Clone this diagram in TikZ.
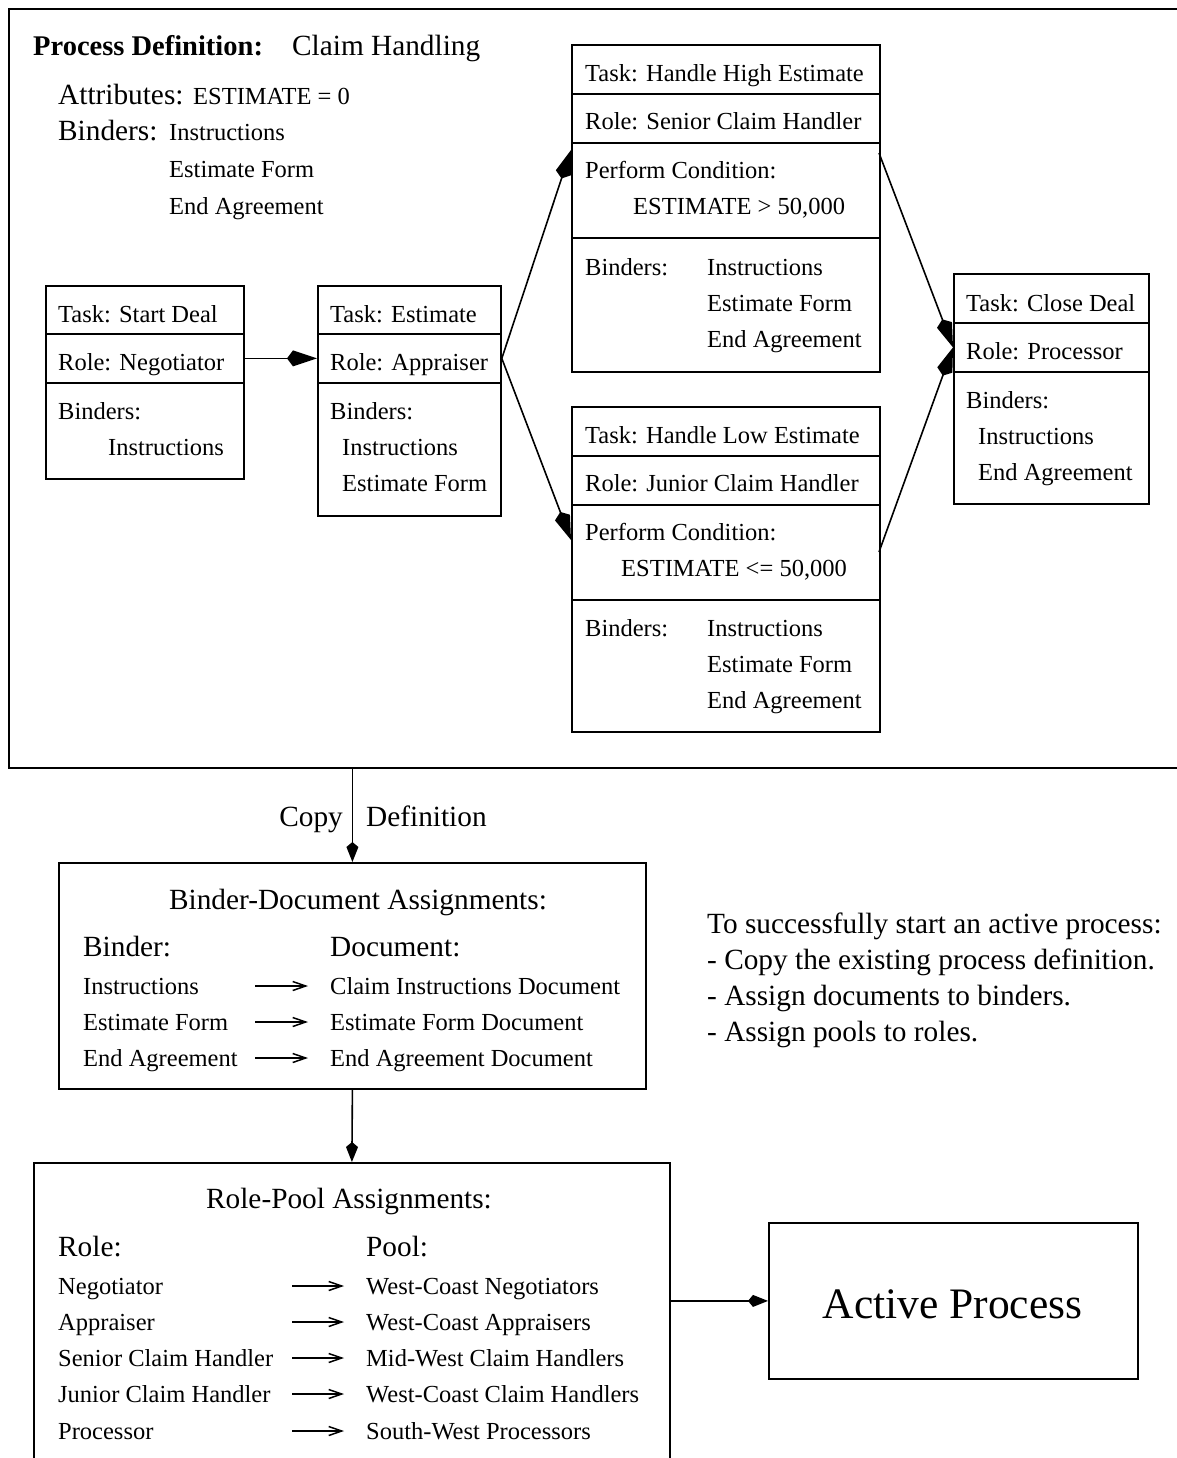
\documentclass[tikz,border=0pt]{standalone}
\usepackage{fontspec}
\setmainfont{Liberation Serif}
\usetikzlibrary{arrows.meta,calc}
\begin{document}
\begin{tikzpicture}[x=1pt,y=-1pt,
  box/.style={draw, line width=1.8pt, inner sep=0pt, anchor=north west},
  t/.style={inner sep=0pt, anchor=west, yshift=-5.5pt, text height=0.66em, text depth=0pt, font=\fontsize{24.5}{28}\selectfont},
  tl/.style={t, font=\fontsize{29.3}{34}\selectfont},
  tc/.style={tl, anchor=center},
  conn/.style={line width=1.6pt, -{Kite[length=30pt,width=16pt,inset=6pt]}},
  sconn/.style={line width=1.6pt, -{Kite[length=20pt,width=12pt,inset=5pt]}},
  ra/.style={line width=1.5pt, -{Straight Barb[length=13pt,width=9pt,line width=1.5pt]}}
]
\useasboundingbox (0,0) rectangle (1177,1458);
\clip (0,0) rectangle (1177,1458);
\newcommand\rowbox[5]{\node[box,minimum width=#4pt,minimum height=#5pt] (#1) at (#2,#3) {};}

% outer frame
\node[box, minimum width=1200pt, minimum height=759pt] (pd) at (8,8) {};
\node[tl, font=\fontsize{28.5}{34}\selectfont\bfseries] (pdtitle) at (33,47) {Process Definition:};
\node[tl] (pdname) at (292,47) {Claim Handling};
\node[tl] (pdattr) at (58,96) {Attributes:};
\node[t] (pdest) at (193,96) {ESTIMATE = 0};
\node[tl] (pdbind) at (58,132) {Binders:};
\node[t] (pdb1) at (169,132) {Instructions};
\node[t] (pdb2) at (169,169) {Estimate Form};
\node[t] (pdb3) at (169,206) {End Agreement};

% Start Deal
\rowbox{sdtask}{45}{285}{198}{48}
\rowbox{sdrole}{45}{333}{198}{49}
\rowbox{sdbind}{45}{382}{198}{96}
\node[t] (sd1) at (58,314) {Task: Start Deal};
\node[t] (sd2) at (58,362) {Role: Negotiator};
\node[t] (sd3) at (58,411) {Binders:};
\node[t] (sd4) at (108,447) {Instructions};

% Estimate
\rowbox{esttask}{317}{285}{183}{48}
\rowbox{estrole}{317}{333}{183}{49}
\rowbox{estbind}{317}{382}{183}{133}
\node[t] (es1) at (330,314) {Task: Estimate};
\node[t] (es2) at (330,362) {Role: Appraiser};
\node[t] (es3) at (330,411) {Binders:};
\node[t] (es4) at (342,447) {Instructions};
\node[t] (es5) at (342,483) {Estimate Form};

% High estimate
\rowbox{hitask}{571}{44}{308}{49}
\rowbox{hirole}{571}{93}{308}{49}
\rowbox{hicond}{571}{142}{308}{95}
\rowbox{hibind}{571}{237}{308}{134}
\node[t] (hi1) at (585,73) {Task: Handle High Estimate};
\node[t] (hi2) at (585,121) {Role: Senior Claim Handler};
\node[t] (hi3) at (585,170) {Perform Condition:};
\node[t] (hi4) at (633,206) {ESTIMATE > 50,000};
\node[t] (hi5) at (585,267) {Binders:};
\node[t] (hi6) at (707,267) {Instructions};
\node[t] (hi7) at (707,303) {Estimate Form};
\node[t] (hi8) at (707,339) {End Agreement};

% Low estimate
\rowbox{lotask}{571}{406}{308}{49}
\rowbox{lorole}{571}{455}{308}{49}
\rowbox{locond}{571}{504}{308}{95}
\rowbox{lobind}{571}{599}{308}{132}
\node[t] (lo1) at (585,435) {Task: Handle Low Estimate};
\node[t] (lo2) at (585,483) {Role: Junior Claim Handler};
\node[t] (lo3) at (585,532) {Perform Condition:};
\node[t] (lo4) at (621,568) {ESTIMATE <= 50,000};
\node[t] (lo5) at (585,628) {Binders:};
\node[t] (lo6) at (707,628) {Instructions};
\node[t] (lo7) at (707,664) {Estimate Form};
\node[t] (lo8) at (707,700) {End Agreement};

% Close deal
\rowbox{cdtask}{953}{273}{195}{49}
\rowbox{cdrole}{953}{322}{195}{49}
\rowbox{cdbind}{953}{371}{195}{132}
\node[t] (cd1) at (966,303) {Task: Close Deal};
\node[t] (cd2) at (966,351) {Role: Processor};
\node[t] (cd3) at (966,400) {Binders:};
\node[t] (cd4) at (978,436) {Instructions};
\node[t] (cd5) at (978,472) {End Agreement};

% connectors in process definition
\coordinate (hiIn) at (571,150);
\coordinate (loIn) at (571,540);
\coordinate (hiOut) at (879,153);
\coordinate (loOut) at (879,552);
\draw[conn] (sdrole.east) -- (estrole.west);
\draw[conn] (estrole.east) -- (hiIn);
\draw[conn] (estrole.east) -- (loIn);
\draw[conn] (hiOut) -- (cdrole.west);
\draw[conn] (loOut) -- (cdrole.west);

% Binder-Document box
\node[box, minimum width=587pt, minimum height=226pt] (bd) at (58,862) {};
\draw[sconn] (pd.south -| bd.north) -- (bd.north);
\node[tl, anchor=east] (copylbl) at (343,818) {Copy};
\node[tl] (deflbl) at (366,818) {Definition};
\node[tc] (bdtitle) at (358,901) {Binder-Document Assignments:};
\node[tl] (bdh1) at (83,948) {Binder:};
\node[tl] (bdh2) at (330,948) {Document:};
\foreach \i/\y/\l/\r in {1/986/Instructions/Claim Instructions Document,
                         2/1022/Estimate Form/Estimate Form Document,
                         3/1058/End Agreement/End Agreement Document}{
  \node[t] (bdl\i) at (83,\y) {\l};
  \node[t] (bdr\i) at (330,\y) {\r};
  \coordinate (bda\i) at (255,\y);
  \coordinate (bdb\i) at (308,\y);
  \draw[ra] (bda\i) -- (bdb\i);
}

% notes
\node[tl] (n1) at (707,925) {To successfully start an active process:};
\node[tl] (n2) at (707,961) {- Copy the existing process definition.};
\node[tl] (n3) at (707,997) {- Assign documents to binders.};
\node[tl] (n4) at (707,1033) {- Assign pools to roles.};

% Role-Pool box
\node[box, minimum width=636pt, minimum height=320pt] (rp) at (33,1162) {};
\draw[sconn] (bd.south) -- (rp.north);
\node[tc] (rptitle) at (349,1200) {Role-Pool Assignments:};
\node[tl] (rph1) at (58,1248) {Role:};
\node[tl] (rph2) at (366,1248) {Pool:};
\foreach \i/\y/\l/\r in {1/1286/Negotiator/West-Coast Negotiators,
                         2/1322/Appraiser/West-Coast Appraisers,
                         3/1358/Senior Claim Handler/Mid-West Claim Handlers,
                         4/1394/Junior Claim Handler/West-Coast Claim Handlers,
                         5/1431/Processor/South-West Processors}{
  \node[t] (rpl\i) at (58,\y) {\l};
  \node[t] (rpr\i) at (366,\y) {\r};
  \coordinate (rpa\i) at (292,\y);
  \coordinate (rpb\i) at (344,\y);
  \draw[ra] (rpa\i) -- (rpb\i);
}

% Active process
\node[box, minimum width=369pt, minimum height=156pt] (ap) at (768,1222) {};
\node[inner sep=0pt, yshift=-10pt, text height=0.66em, text depth=0pt, font=\fontsize{43.5}{50}\selectfont] (aptext) at (952.5,1305) {Active Process};
\draw[sconn] (rp.east |- ap.west) -- (ap.west);
\end{tikzpicture}
\end{document}
